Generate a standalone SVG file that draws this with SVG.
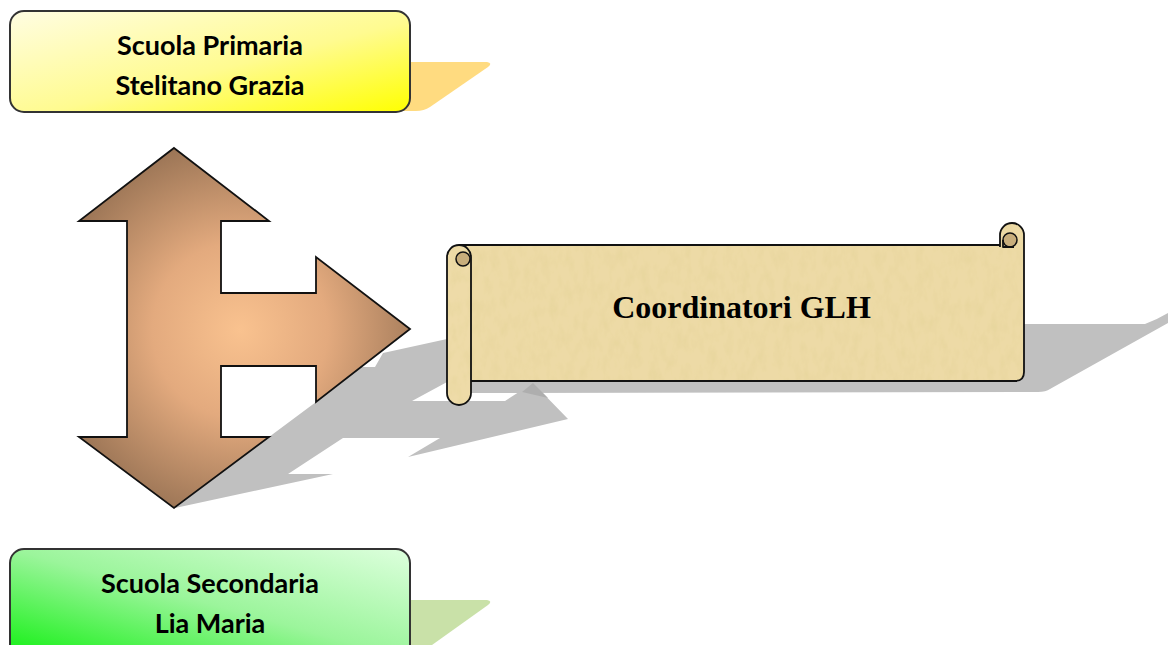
<svg xmlns="http://www.w3.org/2000/svg" width="1168" height="645" viewBox="0 0 1168 645">
<defs>
<style>
.box{stroke:#333;stroke-width:2}
.bt{font-family:Lato,"Open Sans","Liberation Sans",sans-serif;font-weight:700;font-size:27px;fill:#000;text-anchor:middle}
.ol{fill:none;stroke:#111;stroke-width:1.8;stroke-linejoin:round}
.shadow{fill:#C0C0C0}
</style>
<linearGradient id="gy" x1="0" y1="0" x2="1" y2="1">
<stop offset="0" stop-color="#FFFDE2"/><stop offset="0.55" stop-color="#FFFB90"/><stop offset="1" stop-color="#FFFF00"/>
</linearGradient>
<linearGradient id="gg" x1="1" y1="0" x2="0" y2="1">
<stop offset="0" stop-color="#DDFFDD"/><stop offset="0.5" stop-color="#9BF59B"/><stop offset="1" stop-color="#10F010"/>
</linearGradient>
<radialGradient id="ga" gradientUnits="userSpaceOnUse" cx="240" cy="330" r="195">
<stop offset="0" stop-color="#F9C28F"/><stop offset="0.45" stop-color="#E3AA7E"/><stop offset="1" stop-color="#9A7455"/>
</radialGradient>
<filter id="paper" x="0" y="0" width="100%" height="100%">
<feTurbulence type="fractalNoise" baseFrequency="0.12 0.06" numOctaves="3" seed="5" result="n"/>
<feColorMatrix in="n" type="matrix" values="0 0 0 0 0.78  0 0 0 0 0.66  0 0 0 0 0.32  0 0 0 1.2 -0.5" result="c"/>
<feComposite in="c" in2="SourceGraphic" operator="in" result="t"/>
<feMerge><feMergeNode in="SourceGraphic"/><feMergeNode in="t"/></feMerge>
</filter>
</defs>
<rect width="1168" height="645" fill="#fff"/>

<g id="shadows">
<path class="shadow" d="M175,508 L333,474 L288,474 L343,438 L440,438 L408,457 L568,419 L533,383 L505,401 L412,401 L460,375 L460,339 L447,339 L383,353 L375,367 L361,367 L316,402 L269,437 Z"/>
<path class="shadow" d="M1000,324 L1145,324 Q1158,319 1168,313 L1168,323 L1050,389 Q1046,392 1038,392 L470,393 L470,380 L1000,380 Z"/>
<path fill="#AEAEAE" d="M533,383 L548,398 L522,392 Z"/>
</g>

<g id="node-primaria">
<path fill="#FFDB80" d="M400,62 L487,62 Q493,63 488,67 L430,107 Q424,111 416,111 L400,111 Z"/>
<rect class="box" x="10" y="11" width="400" height="101" rx="14" fill="url(#gy)"/>
<text class="bt" x="210" y="55">Scuola Primaria</text>
<text class="bt" x="210" y="95">Stelitano Grazia</text>
</g>

<g id="node-secondaria">
<path fill="#C9E1A8" d="M400,600 L487,600 Q493,601 488,605 L432,645 L400,645 Z"/>
<rect class="box" x="10" y="549" width="400" height="110" rx="14" fill="url(#gg)"/>
<text class="bt" x="210" y="593">Scuola Secondaria</text>
<text class="bt" x="210" y="633">Lia Maria</text>
</g>

<g id="arrow">
<path d="M174,148 L269,221 L221,221 L221,293 L316,293 L316,257 L410,329 L316,402 L316,366 L221,366 L221,437 L269,437 L174,508 L79,437 L127,437 L127,221 L79,221 Z" fill="url(#ga)" stroke="#111" stroke-width="1.8" stroke-linejoin="miter"/>
</g>

<g id="node-glh">
<g filter="url(#paper)">
<path d="M459,245 L1000,245 L1000,235 A12,12 0 0 1 1024,235 L1024,372 Q1024,381 1015,381 L459,381 Z" fill="#EDDAA6"/>
<rect x="447" y="245" width="24" height="160" rx="12" fill="#EEDBA8"/>
</g>
<path class="ol" d="M459,245 L1000,245 M1024,235 L1024,372 Q1024,381 1015,381 L471,381"/>
<path class="ol" d="M1000,247 L1000,235 A12,12 0 0 1 1024,235"/>
<circle cx="1010" cy="240" r="7" fill="#C8AE7C" stroke="#111" stroke-width="1.5"/>
<path class="ol" d="M1003,240 L1003,247 L1014,247"/>
<rect class="ol" x="447" y="245" width="24" height="160" rx="12"/>
<circle cx="463" cy="259" r="7" fill="#C8AE7C" stroke="#111" stroke-width="1.5"/>
<text x="741.5" y="318" font-family="'Liberation Serif','Times New Roman',serif" font-weight="700" font-size="32" text-anchor="middle" fill="#000">Coordinatori GLH</text>
</g>
</svg>
